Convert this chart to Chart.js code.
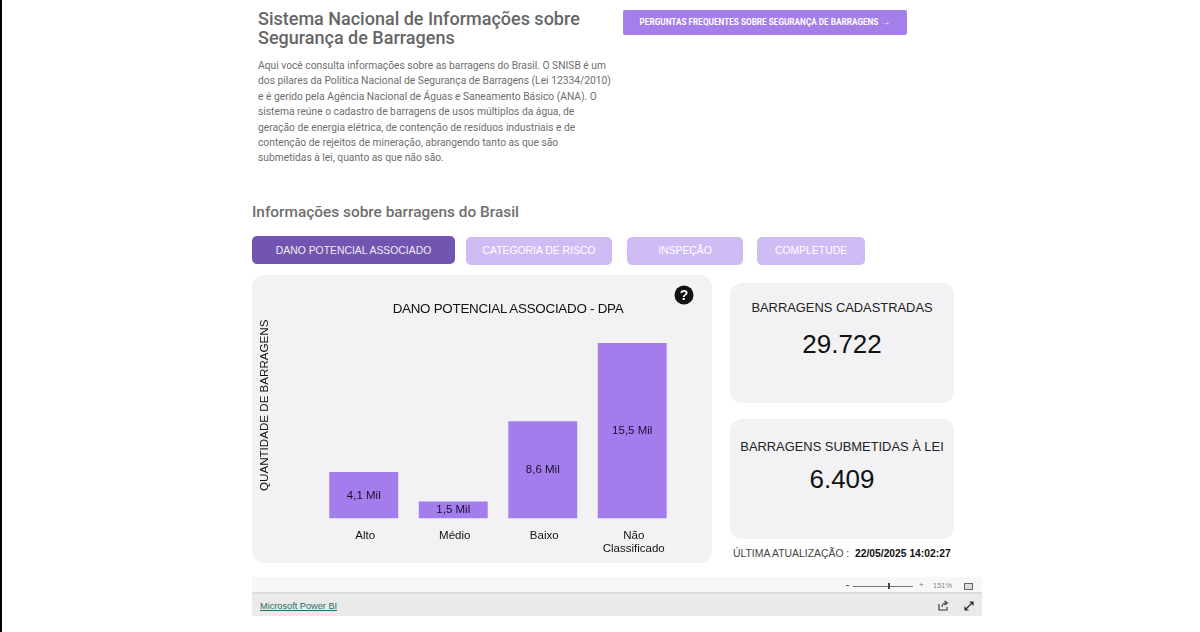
<!DOCTYPE html>
<html lang="pt-BR">
<head>
<meta charset="utf-8">
<title>SNISB</title>
<script src="https://cdn.jsdelivr.net/npm/chart.js@4"></script>
<style>
  html, body { margin: 0; padding: 0; background: #fff; }
  body { width: 1200px; height: 632px; position: relative; overflow: hidden; font-family: "Liberation Sans", Arial, sans-serif; }
  .abs { position: absolute; white-space: nowrap; }
  .center { text-align: center; }
  .rob { font-family: Roboto, sans-serif; }
  .card { position: absolute; background: #f2f2f4; border-radius: 12px; }
  .tab { position: absolute; border-radius: 5px; text-align: center; color: #fff; font-size: 10.4px; background: #cfbcf5; }
  #chartWrap { position: absolute; left: 252px; top: 275px; width: 460px; height: 283px; }
</style>
</head>
<body>
<div class="abs" style="left:0;top:0;width:2px;height:632px;background:#000"></div>

<div class="abs rob" style="left:258px;top:9px;font-size:18px;line-height:19px;font-weight:500;color:#666">Sistema Nacional de Informações sobre<br>Segurança de Barragens</div>
<div class="abs rob" style="left:258px;top:58px;font-size:10.27px;line-height:15.4px;color:#6e6e6e">Aqui você consulta informações sobre as barragens do Brasil. O SNISB é um<br>dos pilares da Política Nacional de Segurança de Barragens (Lei 12334/2010)<br>e é gerido pela Agência Nacional de Águas e Saneamento Básico (ANA). O<br>sistema reúne o cadastro de barragens de usos múltiplos da água, de<br>geração de energia elétrica, de contenção de resíduos industriais e de<br>contenção de rejeitos de mineração, abrangendo tanto as que são<br>submetidas à lei, quanto as que não são.</div>

<div class="abs rob center" style="left:623px;top:10px;width:284px;height:25px;line-height:23px;background:#a47ee9;border-radius:2px;color:#fff;font-size:8.2px;font-weight:700">PERGUNTAS FREQUENTES SOBRE SEGURANÇA DE BARRAGENS <span style="font-size:10px">→</span></div>

<div class="abs rob" style="left:252px;top:203px;font-size:15.4px;line-height:18px;font-weight:500;color:#6f6f6f">Informações sobre barragens do Brasil</div>

<div class="tab" style="left:252px;top:236px;width:203px;height:28px;line-height:29px;background:#7354b0;color:#eee">DANO POTENCIAL ASSOCIADO</div>
<div class="tab" style="left:466px;top:237px;width:146px;height:28px;line-height:28px">CATEGORIA DE RISCO</div>
<div class="tab" style="left:627px;top:237px;width:116px;height:28px;line-height:28px">INSPEÇÃO</div>
<div class="tab" style="left:757px;top:237px;width:108px;height:28px;line-height:28px">COMPLETUDE</div>

<div class="card" style="left:252px;top:275px;width:460px;height:288px"></div>
<div id="chartWrap"><canvas id="chart" width="460" height="283"></canvas></div>
<div class="abs center" style="left:358px;top:301px;width:300px;font-size:13.4px;line-height:16px;letter-spacing:-0.27px;color:#111">DANO POTENCIAL ASSOCIADO - DPA</div>
<svg class="abs" style="left:674px;top:285px" width="20" height="20" viewBox="0 0 20 20">
  <circle cx="10" cy="10" r="9.5" fill="#111"/>
  <text x="10" y="15" text-anchor="middle" font-family="Liberation Sans" font-weight="700" font-size="14" fill="#fff">?</text>
</svg>

<div class="card" style="left:730px;top:283px;width:224px;height:120px"></div>
<div class="abs center" style="left:730px;top:300px;width:224px;font-size:12.9px;line-height:16px;color:#222">BARRAGENS CADASTRADAS</div>
<div class="abs center" style="left:730px;top:329px;width:224px;font-size:26px;line-height:30px;color:#111">29.722</div>

<div class="card" style="left:730px;top:419px;width:224px;height:120px"></div>
<div class="abs center" style="left:730px;top:439px;width:224px;font-size:12.9px;line-height:16px;color:#222">BARRAGENS SUBMETIDAS À LEI</div>
<div class="abs center" style="left:730px;top:464px;width:224px;font-size:26px;line-height:30px;color:#111">6.409</div>

<div class="abs" style="left:733px;top:547px;font-size:10.4px;line-height:14px;color:#444">ÚLTIMA ATUALIZAÇÃO :</div>
<div class="abs" style="left:855px;top:547px;font-size:10.3px;line-height:14px;font-weight:700;color:#111">22/05/2025 14:02:27</div>

<div class="abs" style="left:252px;top:577px;width:730px;height:15px;background:#f7f7f7"></div>
<div class="abs" style="left:252px;top:592px;width:730px;height:2px;background:#dcdcdc"></div>
<div class="abs" style="left:252px;top:594px;width:730px;height:22px;background:#eaeaea"></div>
<div class="abs" style="left:260px;top:600px;font-family:'Liberation Sans';font-size:9.2px;line-height:12px;color:#1f6f68;text-decoration:underline">Microsoft Power BI</div>
<div class="abs" style="left:846px;top:585px;width:3px;height:1px;background:#555"></div>
<div class="abs" style="left:853px;top:585.5px;width:60px;height:1px;background:#777"></div>
<div class="abs" style="left:888px;top:583px;width:2px;height:6px;background:#444"></div>
<div class="abs" style="left:919px;top:580px;font-size:8px;line-height:10px;color:#777">+</div>
<div class="abs" style="left:933px;top:580px;font-size:7.5px;line-height:11px;color:#888">151%</div>
<div class="abs" style="left:964px;top:583px;width:7px;height:5px;border:1px solid #666;background:#ddd"></div>
<svg class="abs" style="left:938px;top:600px" width="11" height="11" viewBox="0 0 11 11" fill="none" stroke="#333" stroke-width="1.1">
  <path d="M1 4 V10 H9 V7"/><path d="M4 7 C4 4 6 3 8 3 M6.5 1 L9.5 3 L6.5 5"/>
</svg>
<svg class="abs" style="left:964px;top:601px" width="10" height="10" viewBox="0 0 10 10" fill="none" stroke="#222" stroke-width="1.1">
  <path d="M1 9 L9 1 M5.5 1 H9 V4.5 M1 5.5 V9 H4.5"/>
</svg>

<script>
const categories = [["Alto"], ["Médio"], ["Baixo"], ["Não", "Classificado"]];
const seriesValues = [4.1, 1.5, 8.6, 15.5];
const yAxisTitle = "QUANTIDADE DE BARRAGENS";

// value labels in the middle of each bar, pt-BR format
const barLabels = {
  id: "barLabels",
  afterDatasetsDraw(chart) {
    const ctx = chart.ctx;
    const meta = chart.getDatasetMeta(0);
    ctx.save();
    ctx.font = '11.5px "Liberation Sans", Arial, sans-serif';
    ctx.fillStyle = "#1a1030";
    ctx.textAlign = "center";
    ctx.textBaseline = "middle";
    meta.data.forEach((bar, i) => {
      const txt = seriesValues[i].toFixed(1).replace(".", ",") + " Mil";
      ctx.fillText(txt, bar.x, (bar.y + bar.base) / 2);
    });
    ctx.restore();
  }
};

new Chart(document.getElementById("chart"), {
  type: "bar",
  data: {
    labels: categories,
    datasets: [{
      data: seriesValues,
      backgroundColor: "#a47ded",
      barPercentage: 0.77,
      categoryPercentage: 1
    }]
  },
  options: {
    responsive: false,
    animation: false,
    layout: { padding: { left: 6, right: 35, top: 17, bottom: 0 } },
    plugins: { legend: { display: false }, tooltip: { enabled: false } },
    scales: {
      x: {
        grid: { display: false },
        border: { display: false },
        ticks: {
          color: "#111",
          padding: 2.5,
          labelOffset: 1.5,
          maxRotation: 0,
          autoSkip: false,
          font: { family: '"Liberation Sans", Arial, sans-serif', size: 11.5, lineHeight: 1.15 }
        }
      },
      y: {
        min: 0,
        max: 20,
        grid: { display: false },
        border: { display: false },
        ticks: { display: false },
        title: {
          display: true,
          text: yAxisTitle,
          color: "#111",
          padding: 0,
          font: { family: '"Liberation Sans", Arial, sans-serif', size: 11.6 }
        },
        afterFit(scale) { scale.width = 61; }
      }
    }
  },
  plugins: [barLabels]
});
</script>
</body>
</html>
